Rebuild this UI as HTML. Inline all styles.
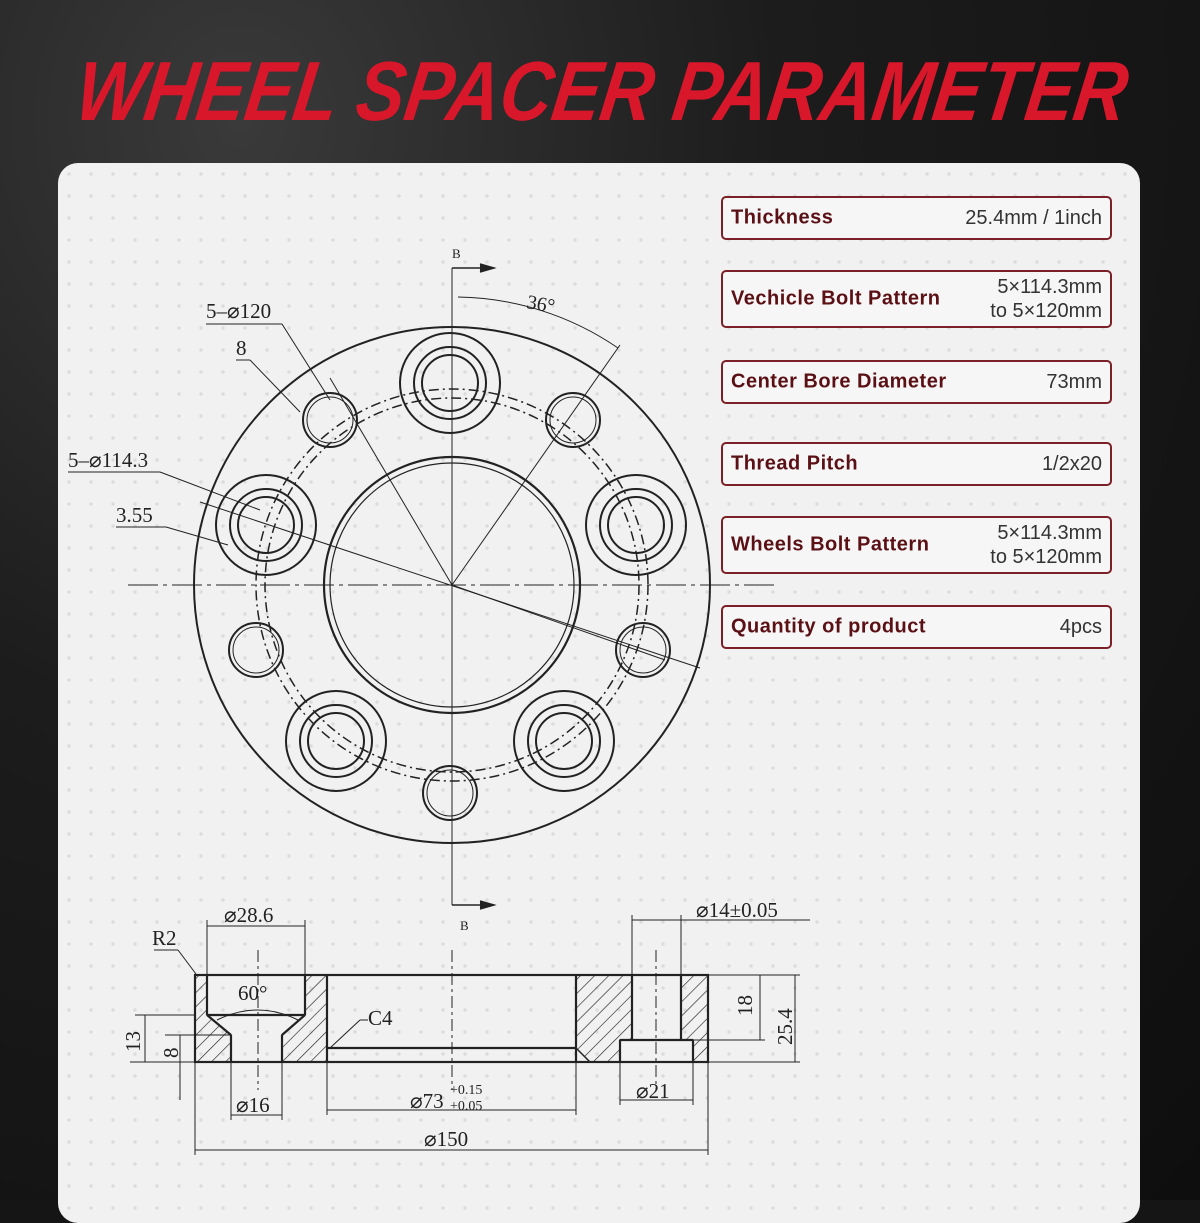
<!DOCTYPE html>
<html><head><meta charset="utf-8"><style>
html,body{margin:0;padding:0}
body{width:1200px;height:1200px;overflow:hidden;background:#151515;position:relative;font-family:"Liberation Sans",sans-serif}
.bg{position:absolute;inset:0;background:radial-gradient(ellipse at 20% 10%,#3a3a3a 0,#1c1c1c 40%,#0e0e0e 100%)}
.panel{position:absolute;left:58px;top:163px;width:1082px;height:1060px;background:#f1f1f1;border-radius:20px;background-image:radial-gradient(#dcdcdc 1.5px,transparent 2px);background-size:22px 22px}
.box{position:absolute;left:721px;width:391px;border:2px solid #7b2026;border-radius:5px;background:#f6f6f6;color:#5a1015;font-size:20px;box-sizing:border-box}
.box .l{position:absolute;left:8px;top:50%;transform:translateY(-50%);font-weight:bold;letter-spacing:.5px}
.box .r{position:absolute;right:8px;top:50%;transform:translateY(-50%);text-align:right;color:#333;line-height:24px}
svg{position:absolute;left:0;top:0}
</style></head><body>
<div class="bg"></div>
<svg width="1200" height="160" viewBox="0 0 1200 160"><text x="80" y="120" textLength="1050" lengthAdjust="spacingAndGlyphs" font-family="Liberation Sans,sans-serif" font-weight="bold" font-style="italic" font-size="84" fill="#d8172a" transform="skewX(-8) translate(10,0)">WHEEL SPACER PARAMETER</text></svg>
<div class="panel"></div>
<div class="box" style="top:196px;height:44px"><span class="l">Thickness</span><span class="r">25.4mm / 1inch</span></div>
<div class="box" style="top:270px;height:58px"><span class="l">Vechicle Bolt Pattern</span><span class="r">5×114.3mm<br>to 5×120mm</span></div>
<div class="box" style="top:360px;height:44px"><span class="l">Center Bore Diameter</span><span class="r">73mm</span></div>
<div class="box" style="top:442px;height:44px"><span class="l">Thread Pitch</span><span class="r">1/2x20</span></div>
<div class="box" style="top:516px;height:58px"><span class="l">Wheels Bolt Pattern</span><span class="r">5×114.3mm<br>to 5×120mm</span></div>
<div class="box" style="top:605px;height:44px"><span class="l">Quantity of product</span><span class="r">4pcs</span></div>
<svg width="1200" height="1200" viewBox="0 0 1200 1200" font-family="Liberation Serif,serif" fill="none" stroke="#222" stroke-width="1.5">
<defs><pattern id="h" width="10" height="10" patternUnits="userSpaceOnUse" patternTransform="rotate(45)"><line x1="0" y1="0" x2="0" y2="10" stroke="#222" stroke-width="1.3"/></pattern></defs>
<circle cx="452" cy="585" r="258" stroke-width="2"/>
<circle cx="452" cy="585" r="128" stroke-width="2.2"/>
<circle cx="452" cy="585" r="122" stroke-width="1.2"/>
<circle cx="452" cy="585" r="187" stroke-dasharray="10 4 2 4"/>
<circle cx="452" cy="585" r="196" stroke-dasharray="10 4 2 4"/>
<g stroke-width="2">
<g transform="translate(450,383)"><circle r="50"/><circle r="36"/><circle r="28"/></g>
<g transform="translate(266,525)"><circle r="50"/><circle r="36"/><circle r="28"/></g>
<g transform="translate(636,525)"><circle r="50"/><circle r="36"/><circle r="28"/></g>
<g transform="translate(336,741)"><circle r="50"/><circle r="36"/><circle r="28"/></g>
<g transform="translate(564,741)"><circle r="50"/><circle r="36"/><circle r="28"/></g>
<circle cx="330" cy="420" r="27"/><circle cx="330" cy="420" r="23" stroke-width="1"/>
<circle cx="573" cy="420" r="27"/><circle cx="573" cy="420" r="23" stroke-width="1"/>
<circle cx="256" cy="650" r="27"/><circle cx="256" cy="650" r="23" stroke-width="1"/>
<circle cx="643" cy="650" r="27"/><circle cx="643" cy="650" r="23" stroke-width="1"/>
<circle cx="450" cy="793" r="27"/><circle cx="450" cy="793" r="23" stroke-width="1"/>
</g>
<line x1="128" y1="585" x2="775" y2="585" stroke-dasharray="30 5 4 5" stroke-width="1"/>
<line x1="452" y1="268" x2="452" y2="905" stroke-width="1"/>
<polyline points="452,268 494,268"/><path d="M480,264 L494,268 L480,272" fill="#222"/>
<polyline points="452,905 494,905"/><path d="M480,901 L494,905 L480,909" fill="#222"/>
<text x="452" y="258" font-size="13" fill="#222" stroke="none">B</text>
<text x="460" y="930" font-size="13" fill="#222" stroke="none">B</text>
<line x1="452" y1="585" x2="330" y2="378" stroke-width="1"/>
<line x1="452" y1="585" x2="620" y2="345" stroke-width="1"/>
<path d="M458,297 A290,290 0 0 1 618,348" stroke-width="1"/>
<text x="526" y="308" font-size="20" fill="#222" stroke="none" transform="rotate(10 526 308)">36°</text>
<line x1="200" y1="502" x2="700" y2="668" stroke-width="1"/>
<line x1="452" y1="585" x2="665" y2="660" stroke-width="1"/>
<line x1="206" y1="324" x2="282" y2="324" stroke-width="1"/><line x1="282" y1="324" x2="330" y2="400" stroke-width="1"/>
<text x="206" y="318" font-size="21" fill="#222" stroke="none">5–⌀120</text>
<line x1="236" y1="360" x2="250" y2="360" stroke-width="1"/><line x1="250" y1="360" x2="300" y2="412" stroke-width="1"/>
<text x="236" y="355" font-size="21" fill="#222" stroke="none">8</text>
<line x1="68" y1="472" x2="160" y2="472" stroke-width="1"/><line x1="160" y1="472" x2="260" y2="510" stroke-width="1"/>
<text x="68" y="467" font-size="21" fill="#222" stroke="none">5–⌀114.3</text>
<line x1="116" y1="527" x2="166" y2="527" stroke-width="1"/><line x1="166" y1="527" x2="228" y2="545" stroke-width="1"/>
<text x="116" y="522" font-size="21" fill="#222" stroke="none">3.55</text>
<path d="M195,975 H207 V1015 L231,1035 V1062 H195 Z" fill="url(#h)"/>
<path d="M305,975 H327 V1062 H282 V1035 L305,1015 Z" fill="url(#h)"/>
<path d="M576,975 H632 V1040 H620 V1062 H590 L576,1048 Z" fill="url(#h)"/>
<path d="M681,975 H708 V1062 H693 V1040 H681 Z" fill="url(#h)"/>
<g stroke-width="2.2">
<rect x="195" y="975" width="513" height="87"/>
<line x1="207" y1="975" x2="207" y2="1015"/><line x1="305" y1="975" x2="305" y2="1015"/>
<line x1="207" y1="1015" x2="305" y2="1015"/>
<line x1="207" y1="1015" x2="231" y2="1035"/><line x1="305" y1="1015" x2="282" y2="1035"/>
<line x1="231" y1="1035" x2="231" y2="1062"/><line x1="282" y1="1035" x2="282" y2="1062"/>
<line x1="327" y1="975" x2="327" y2="1062"/><line x1="576" y1="975" x2="576" y2="1062"/>
<line x1="327" y1="1048" x2="576" y2="1048"/>
<line x1="632" y1="975" x2="632" y2="1040"/><line x1="681" y1="975" x2="681" y2="1040"/>
<line x1="620" y1="1040" x2="693" y2="1040"/>
<line x1="620" y1="1040" x2="620" y2="1062"/><line x1="693" y1="1040" x2="693" y2="1062"/>
</g>
<g stroke-width="1">
<line x1="207" y1="920" x2="207" y2="975"/><line x1="305" y1="920" x2="305" y2="975"/><line x1="207" y1="926" x2="305" y2="926"/>
<line x1="632" y1="915" x2="632" y2="975"/><line x1="681" y1="915" x2="681" y2="975"/><line x1="632" y1="920" x2="810" y2="920"/>
<line x1="195" y1="1062" x2="195" y2="1155"/><line x1="708" y1="1062" x2="708" y2="1155"/><line x1="195" y1="1150" x2="708" y2="1150"/>
<line x1="327" y1="1062" x2="327" y2="1115"/><line x1="576" y1="1062" x2="576" y2="1115"/><line x1="327" y1="1110" x2="576" y2="1110"/>
<line x1="231" y1="1062" x2="231" y2="1120"/><line x1="282" y1="1062" x2="282" y2="1120"/><line x1="231" y1="1115" x2="282" y2="1115"/>
<line x1="620" y1="1062" x2="620" y2="1105"/><line x1="693" y1="1062" x2="693" y2="1105"/><line x1="620" y1="1100" x2="693" y2="1100"/>
<line x1="708" y1="975" x2="800" y2="975"/><line x1="708" y1="1062" x2="800" y2="1062"/><line x1="693" y1="1040" x2="765" y2="1040"/>
<line x1="795" y1="975" x2="795" y2="1062"/><line x1="760" y1="975" x2="760" y2="1040"/>
<line x1="135" y1="1015" x2="195" y2="1015"/><line x1="165" y1="1035" x2="231" y2="1035"/>
<line x1="145" y1="1015" x2="145" y2="1062"/><line x1="180" y1="1035" x2="180" y2="1100"/>
<line x1="130" y1="1062" x2="195" y2="1062"/>
<line x1="452" y1="950" x2="452" y2="1090" stroke-dasharray="12 4 3 4"/>
<line x1="258" y1="950" x2="258" y2="1090" stroke-dasharray="12 4 3 4"/>
<line x1="656" y1="950" x2="656" y2="1090" stroke-dasharray="12 4 3 4"/>
<line x1="154" y1="950" x2="178" y2="950"/><line x1="178" y1="950" x2="196" y2="974"/>
<line x1="330" y1="1048" x2="360" y2="1020"/><line x1="360" y1="1020" x2="368" y2="1020"/>
<path d="M217,1020 Q258,1000 298,1020"/>
</g>
<g font-size="21" fill="#222" stroke="none">
<text x="224" y="922">⌀28.6</text>
<text x="696" y="917">⌀14±0.05</text>
<text x="152" y="945">R2</text>
<text x="238" y="1000">60°</text>
<text x="368" y="1025">C4</text>
<text x="236" y="1112">⌀16</text>
<text x="410" y="1108">⌀73</text><text x="450" y="1094" font-size="14">+0.15</text><text x="450" y="1110" font-size="14">+0.05</text>
<text x="636" y="1098">⌀21</text>
<text x="424" y="1146">⌀150</text>
<text transform="translate(140,1052) rotate(-90)">13</text>
<text transform="translate(178,1058) rotate(-90)">8</text>
<text transform="translate(752,1016) rotate(-90)">18</text>
<text transform="translate(792,1045) rotate(-90)">25.4</text>
</g>
</svg>
</body></html>
